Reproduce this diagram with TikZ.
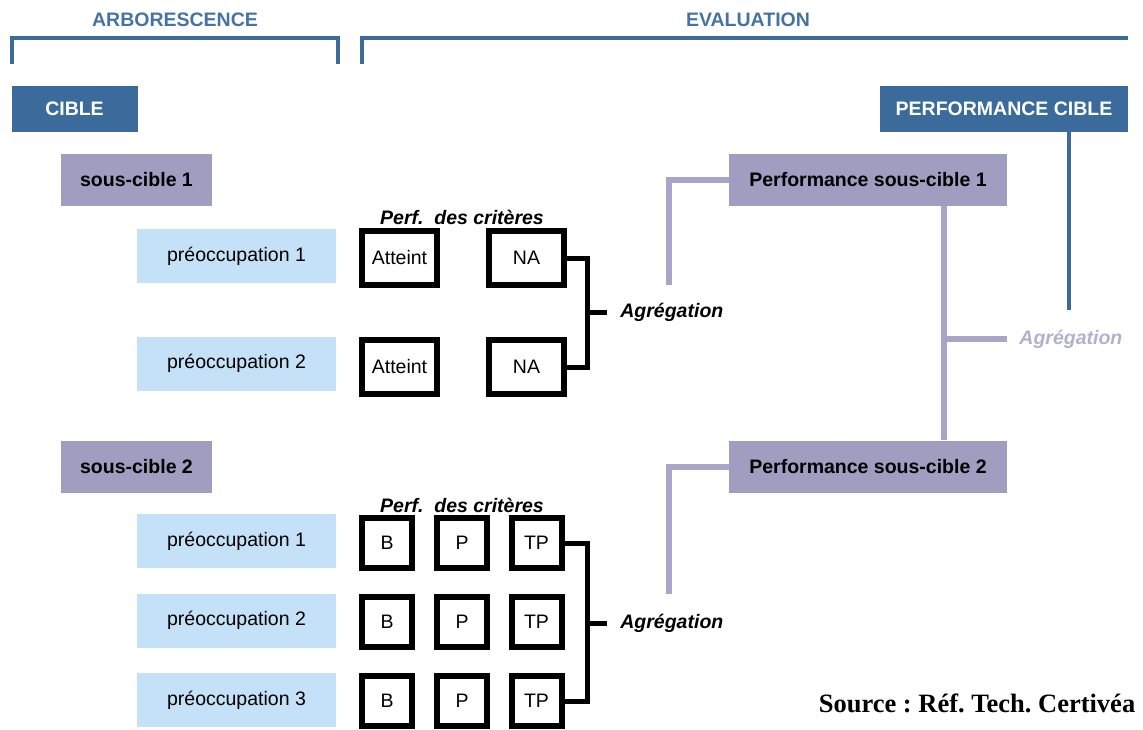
\documentclass[tikz,border=0pt]{standalone}
\usepackage{fontspec}
\setmainfont{Liberation Sans}
\newfontfamily\srcfont{Liberation Serif}
\usepackage{tikz}
\usetikzlibrary{shapes.geometric,arrows,fit,matrix,positioning}
\usepackage{xcolor}
\definecolor{cibleblue}{HTML}{3B6B9B}
\definecolor{headblue}{HTML}{4673A3}
\definecolor{scgray}{HTML}{A09EC0}
\definecolor{preoblue}{HTML}{C4E1F8}
\definecolor{lavline}{HTML}{A8A6C8}
\definecolor{agglight}{HTML}{B2B0D0}
\frenchspacing

\begin{document}
\begin{tikzpicture} [
        x = 0.5pt, y = -0.5pt,
        inner sep = 0,
        every node/.style = { font = \fontsize{9.75}{11.5}\selectfont },
        header/.style = { text = headblue, font = \fontsize{9.75}{11.5}\selectfont\bfseries },
        bracket/.style = { draw = cibleblue, line width = 2.25pt },
        ciblebox/.style = { fill = cibleblue, text = white, font = \fontsize{9.75}{11.5}\selectfont\bfseries, minimum height = 23pt },
        scbox/.style = { fill = scgray, font = \fontsize{9.75}{11.5}\selectfont\bfseries, minimum width = 75.5pt, minimum height = 26pt },
        psbox/.style = { fill = scgray, font = \fontsize{9.75}{11.5}\selectfont\bfseries, minimum width = 139pt, minimum height = 26pt },
        preobox/.style = { fill = preoblue, minimum width = 99.5pt, minimum height = 27pt },
        critbox/.style = { draw, line width = 3pt, minimum width = 37.5pt, minimum height = 27pt },
        smallbox/.style = { draw, line width = 3pt, minimum size = 25pt },
        perflabel/.style = { font = \fontsize{9.75}{11.5}\selectfont\bfseries\itshape },
        agg/.style = { anchor = west, inner xsep = 6.5pt, font = \fontsize{9.75}{11.5}\selectfont\bfseries\itshape },
        critline/.style = { draw, line width = 2.5pt },
        lavconn/.style = { draw = lavline, line width = 3pt },
        blueconn/.style = { draw = cibleblue, line width = 2.25pt }
        ]
        \useasboundingbox (0,0) rectangle (1143,729);

        \node [header] (arbo) at (175,20) {ARBORESCENCE};
        \node [header] (evalu) at (748,20) {EVALUATION};
        \draw [bracket] (12,64) |- (338,38) -- (338,64);
        \draw [bracket] (362,64) |- (1128,38);

        \node [ciblebox, minimum width = 63pt] (cible) at (74.5,109) {CIBLE};
        \node [ciblebox, minimum width = 124pt] (perfcible) at (1004,109) {PERFORMANCE CIBLE};

        \node [scbox] (sc1) at (136.5,180) {sous-cible 1};
        \node [preobox] (pr11) at (236.5,256) {préoccupation 1};
        \node [preobox] (pr12) at (236.5,363.5) {préoccupation 2};
        \node [scbox] (sc2) at (136.5,467) {sous-cible 2};
        \node [preobox] (pr21) at (236.5,541) {préoccupation 1};
        \node [preobox] (pr22) at (236.5,620.5) {préoccupation 2};
        \node [preobox] (pr23) at (236.5,700) {préoccupation 3};

        \node [perflabel] (perf1) at (462,217) {Perf.\ \ des critères};
        \node [critbox] (at1) at (399.5,258) {Atteint};
        \node [critbox] (na1) at (526.5,258) {NA};
        \node [critbox] (at2) at (399.5,367) {Atteint};
        \node [critbox] (na2) at (526.5,367) {NA};

        \node [perflabel] (perf2) at (462,505) {Perf.\ \ des critères};
        \foreach \r/\y in {1/543, 2/621.5, 3/701} {
            \node [smallbox] (b\r) at (387,\y) {B};
            \node [smallbox] (p\r) at (462,\y) {P};
            \node [smallbox] (tp\r) at (536.5,\y) {TP};
        }

        \node [agg] (agg1) at (607,312) {Agrégation};
        \node [agg] (agg2) at (607,623) {Agrégation};
        \coordinate (bus1) at (587,312);
        \coordinate (bus2) at (587,623);
        \draw [critline] (na1.east) -| (bus1) |- (na2.east);
        \draw [critline] (bus1) -- (agg1.west);
        \draw [critline] (tp1.east) -| (bus2) |- (tp3.east);
        \draw [critline] (bus2) -- (agg2.west);

        \node [psbox] (psc1) at (868,180) {Performance sous-cible 1};
        \node [psbox] (psc2) at (868,466.5) {Performance sous-cible 2};
        \node [agg, text = agglight, inner xsep = 6pt] (aggc) at (1007,339) {Agrégation};
        \coordinate (end1) at (669,285);
        \coordinate (end2) at (669,594);
        \coordinate (junc) at (944,339);
        \draw [lavconn] (psc1.west) -| (end1);
        \draw [lavconn] (psc2.west) -| (end2);
        \draw [lavconn] (psc1.south -| junc) -- (psc2.north -| junc);
        \draw [lavconn] (junc) -- (aggc.west);
        \coordinate (cend) at (1069,310);
        \draw [blueconn] (perfcible.south -| cend) -- (cend);

        \node [font = \fontsize{13.25}{15}\selectfont\srcfont\bfseries] (src) at (977,703) {Source : Réf. Tech. Certivéa};
    \end{tikzpicture}
\end{document}
